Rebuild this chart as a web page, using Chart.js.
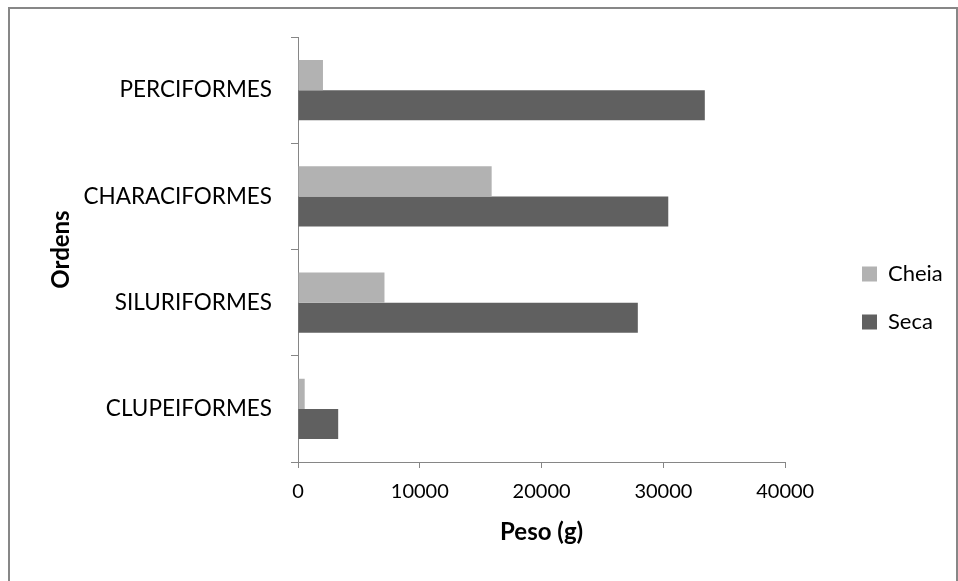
<!DOCTYPE html>
<html>
<head>
<meta charset="utf-8">
<script src="https://cdn.jsdelivr.net/npm/chart.js@4"></script>
<style>
  html, body { margin: 0; padding: 0; background: #fff; overflow: hidden; }
  #wrap { position: relative; width: 958px; height: 581px; }
  #frame {
    position: absolute; left: 8px; top: 7px; width: 950px; height: 600px;
    border: 2px solid #878787; border-bottom: none; box-sizing: border-box;
    pointer-events: none;
  }
</style>
</head>
<body>
<div id="wrap">
  <canvas id="chart" width="958" height="581"></canvas>
  <div id="frame"></div>
</div>
<script>
// values (grams)
const ordens = ["PERCIFORMES", "CHARACIFORMES", "SILURIFORMES", "CLUPEIFORMES"];
const cheia = [2050, 15900, 7100, 550];
const seca = [33400, 30400, 27900, 3300];
const pesoTicks = [0, 10000, 20000, 30000, 40000];

const FONT = "Lato";
const axisColor = "#868686";

// nudge the legend to where the original sits
const legendShift = {
  id: "legendShift",
  afterLayout(chart) {
    const lg = chart.legend;
    const dx = 862 - 26 - lg.left;
    lg.left += dx;
    lg.right += dx;
  }
};

new Chart(document.getElementById("chart"), {
  type: "bar",
  data: {
    labels: ordens,
    datasets: [
      { label: "Cheia", data: cheia, backgroundColor: "#b2b2b2" },
      { label: "Seca", data: seca, backgroundColor: "#606060" }
    ]
  },
  options: {
    indexAxis: "y",
    responsive: false,
    animation: false,
    devicePixelRatio: 1,
    categoryPercentage: 0.565,
    barPercentage: 1,
    layout: { padding: { top: 37, left: 45, right: 56, bottom: 22 } },
    plugins: {
      tooltip: { enabled: false },
      legend: {
        position: "right",
        align: "center",
        labels: {
          boxWidth: 15,
          boxHeight: 15,
          padding: 26,
          color: "#000",
          font: { family: FONT, size: 22 }
        }
      }
    },
    scales: {
      y: {
        grid: {
          display: true, drawOnChartArea: false, offset: true,
          tickLength: 7, color: axisColor
        },
        border: { color: axisColor },
        ticks: { color: "#000", padding: 19, font: { family: FONT, size: 22.5 } },
        title: {
          display: true, text: "Ordens", color: "#000",
          font: { family: FONT, size: 24, weight: "bold" },
          padding: { top: 2, bottom: 0 }
        },
        afterFit(s) { s.width = 298 - 45; }
      },
      x: {
        min: 0,
        max: 40000,
        afterBuildTicks(s) { s.ticks = pesoTicks.map(v => ({ value: v })); },
        grid: { display: true, drawOnChartArea: false, tickLength: 6, color: axisColor },
        border: { color: axisColor },
        ticks: {
          color: "#000", padding: 12, maxRotation: 0,
          font: { family: FONT, size: 20 },
          callback: v => String(v)
        },
        title: {
          display: true, text: "Peso (g)", color: "#000",
          font: { family: FONT, size: 24, weight: "bold" },
          padding: { top: 4, bottom: 12 }
        },
        afterFit(s) { s.height = 97; }
      }
    }
  },
  plugins: [legendShift]
});
</script>
</body>
</html>
